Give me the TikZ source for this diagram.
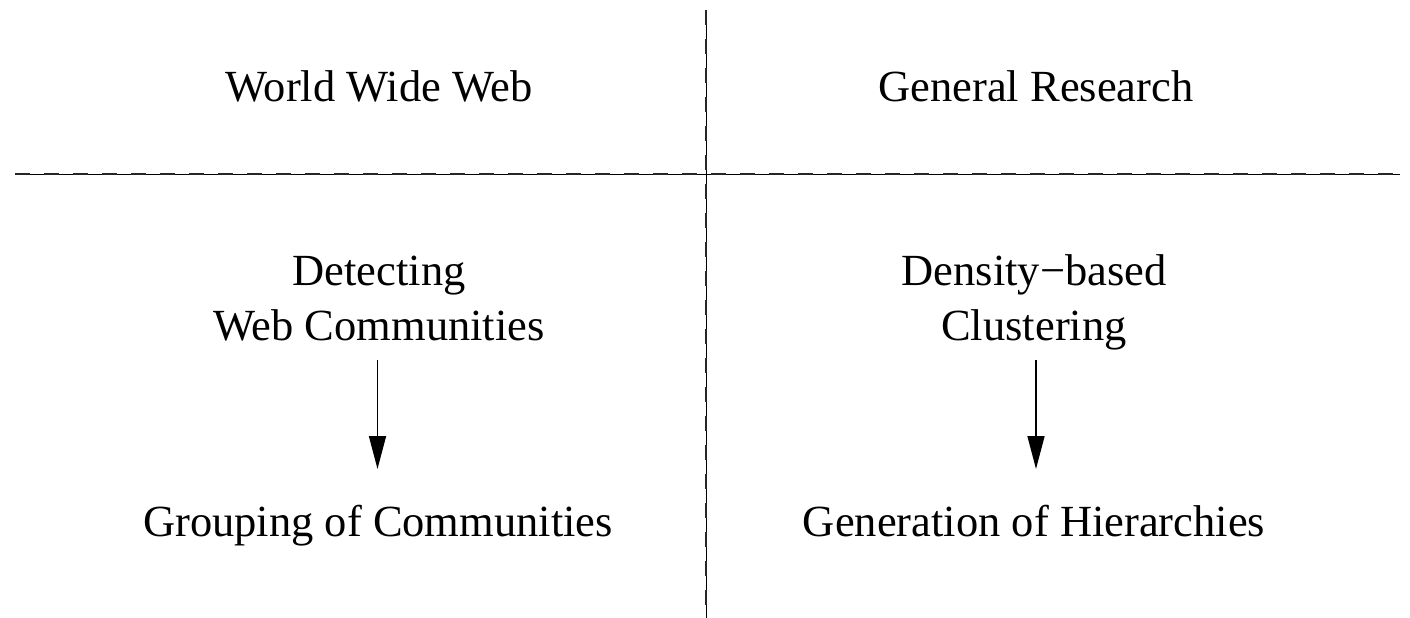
\documentclass[tikz,border=0pt]{standalone}
\usepackage{fontspec}
\setmainfont{Liberation Serif}
\usetikzlibrary{arrows.meta}
\begin{document}
\begin{tikzpicture}[x=1pt,y=-1pt,
  lbl/.style={anchor=base,inner sep=0pt,font=\fontsize{44.5}{55}\selectfont},
  thinline/.style={line width=1pt,black},
  dashline/.style={line width=2.6pt,black!85,dash pattern=on 15pt off 14pt},
  flow/.style={line width=1.6pt,-{Triangle[length=33pt,width=17pt]}}]
\useasboundingbox (0,0) rectangle (1410,618);
\coordinate (hl) at (15,174);
\coordinate (hr) at (1400,174);
\coordinate (vt) at (706,10);
\coordinate (vb) at (706,618);
\draw[thinline] (hl) -- (hr);
\draw[dashline] (hl) -- (hr);
\draw[thinline] (vt) -- (vb);
\draw[dashline] (vt) -- (vb);
\node[lbl] (www) at (379,101) {World Wide Web};
\node[lbl] (gr) at (1036,101) {General Research};
\node[lbl] (det1) at (379,285) {Detecting};
\node[lbl] (det2) at (379,340) {Web Communities};
\node[lbl] (grp) at (378,536) {Grouping of Communities};
\node[lbl] (den1) at (1034,285) {Density−based};
\node[lbl] (den2) at (1034,340) {Clustering};
\node[lbl] (gen) at (1034,536) {Generation of Hierarchies};
\coordinate (a1s) at (377.5,360);
\coordinate (a1e) at (377.5,469);
\coordinate (a2s) at (1036,360);
\coordinate (a2e) at (1036,469);
\draw[flow] (a1s) -- (a1e);
\draw[flow] (a2s) -- (a2e);
\end{tikzpicture}
\end{document}
